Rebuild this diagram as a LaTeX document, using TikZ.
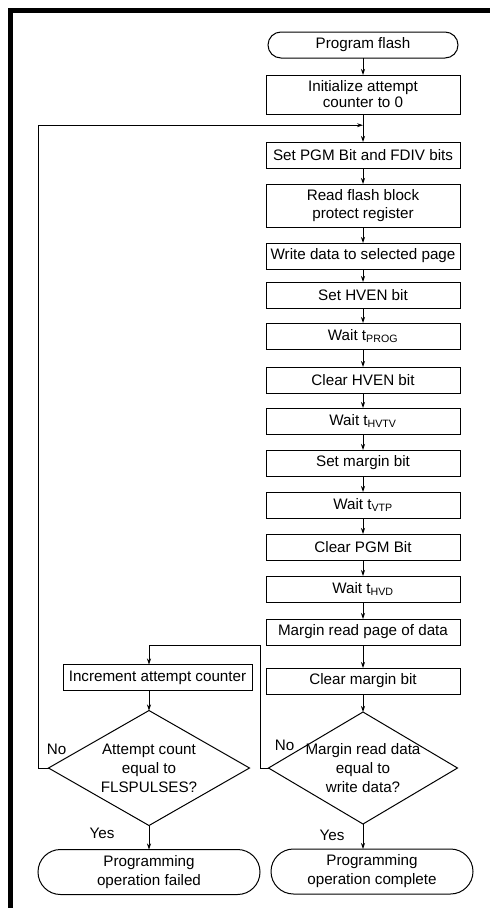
\documentclass[tikz,border=0pt]{standalone}
\usepackage{fontspec}
\setmainfont{Liberation Sans}
\usetikzlibrary{positioning,arrows.meta,calc,shapes.geometric,shapes.misc}
\newcommand{\tsub}[1]{t\textsubscript{#1}}
\tikzset{
  flow/.style={-{Stealth[length=6pt,width=4pt]},line width=0.8pt},
  stepbox/.style={draw,line width=1pt,outer sep=0pt,minimum width=194pt,minimum height=26pt,
    inner sep=2pt,align=center,font=\fontsize{15.2}{18}\selectfont},
  termbox/.style={draw,rounded rectangle,line width=1pt,outer sep=0pt,inner sep=2pt,
    align=center,font=\fontsize{15.2}{19}\selectfont},
  testbox/.style={draw,diamond,aspect=1.7,line width=1pt,outer sep=0pt,inner sep=-8pt,
    align=center,font=\fontsize{15.2}{19}\selectfont},
  tag/.style={inner sep=0pt,font=\fontsize{15.2}{18}\selectfont}
}
\begin{document}
\begin{tikzpicture}[x=1pt,y=1pt]
  \useasboundingbox (0,0) rectangle (490,-908);
  \draw[line width=4.5pt] (10.5,-908) -- (10.5,-10.25) -- (490,-10.25);
  % main column
  \node[termbox,minimum width=194pt,minimum height=26pt] (start) at (363,-45) {Program flash};
  \node[stepbox,minimum height=39pt,below=17pt of start,font=\fontsize{15.2}{16}\selectfont] (init) {Initialize attempt\\counter to 0};
  \node[stepbox,below=28pt of init] (pgm) {Set PGM Bit and FDIV bits};
  \node[stepbox,minimum height=43pt,below=16pt of pgm] (block) {Read flash block\\protect register};
  \node[stepbox,below=16pt of block] (write) {Write data to selected page};
  \node[stepbox,below=13pt of write] (hvenon) {Set HVEN bit};
  \node[stepbox,below=15pt of hvenon] (prog) {Wait \tsub{PROG}};
  \node[stepbox,below=18pt of prog] (hvenoff) {Clear HVEN bit};
  \node[stepbox,below=15pt of hvenoff] (hvtv) {Wait \tsub{HVTV}};
  \node[stepbox,below=16pt of hvtv] (marginon) {Set margin bit};
  \node[stepbox,below=16pt of marginon] (vtp) {Wait \tsub{VTP}};
  \node[stepbox,below=16pt of vtp] (pgmoff) {Clear PGM Bit};
  \node[stepbox,below=16pt of pgmoff] (hvd) {Wait \tsub{HVD}};
  \node[stepbox,below=17pt of hvd] (mread) {Margin read page of data};
  \node[stepbox,below=23pt of mread] (marginoff) {Clear margin bit};
  \node[testbox,minimum width=189pt,minimum height=112pt,below=18pt of marginoff] (verify) {Margin read data\\equal to\\write data?};
  \node[termbox,minimum width=206pt,minimum height=45pt,below=25pt of verify,xshift=9pt] (done) {Programming\\operation complete};
  % retry column
  \node[testbox,minimum width=201pt,minimum height=115pt,left=19pt of verify] (limit) {Attempt count\\equal to\\FLSPULSES?};
  \node[stepbox,minimum width=189pt,above=20pt of limit,xshift=8.5pt] (bump) {Increment attempt counter};
  \node[termbox,minimum width=226pt,minimum height=45pt,below=24pt of limit] (failed) {Programming\\operation failed};
  \coordinate (rejoin) at ($(init.south)!0.4!(pgm.north)$);
  % labels
  \node[tag] (nofail) at ([xshift=8pt,yshift=19pt]limit.west) {No};
  \node[tag] (nopass) at ([xshift=16pt,yshift=23pt]verify.west) {No};
  \node[tag] (yesfail) at ([xshift=-47pt,yshift=-8pt]limit.south) {Yes};
  \node[tag] (yespass) at ([xshift=-31pt,yshift=-11pt]verify.south) {Yes};
  % connectors
  \draw[flow] (start) -- (init);
  \draw[flow] (init) -- (pgm);
  \draw[flow] (pgm) -- (block);
  \draw[flow] (block) -- (write);
  \draw[flow] (write) -- (hvenon);
  \draw[flow] (hvenon) -- (prog);
  \draw[flow] (prog) -- (hvenoff);
  \draw[flow] (hvenoff) -- (hvtv);
  \draw[flow] (hvtv) -- (marginon);
  \draw[flow] (marginon) -- (vtp);
  \draw[flow] (vtp) -- (pgmoff);
  \draw[flow] (pgmoff) -- (hvd);
  \draw[flow] (hvd) -- (mread);
  \draw[flow] (mread) -- (marginoff);
  \draw[flow] (marginoff) -- (verify);
  \draw[flow] (verify) -- (verify |- done.north);
  \draw[flow] (verify.west) -- ++(-8pt,0) |- (limit |- mread.south) -- (limit |- bump.north);
  \draw[flow] (limit |- bump.south) -- (limit.north);
  \draw[flow] (limit) -- (failed);
  \draw[flow] (limit.west) -- ++(-10pt,0) |- (rejoin);
\end{tikzpicture}
\end{document}
